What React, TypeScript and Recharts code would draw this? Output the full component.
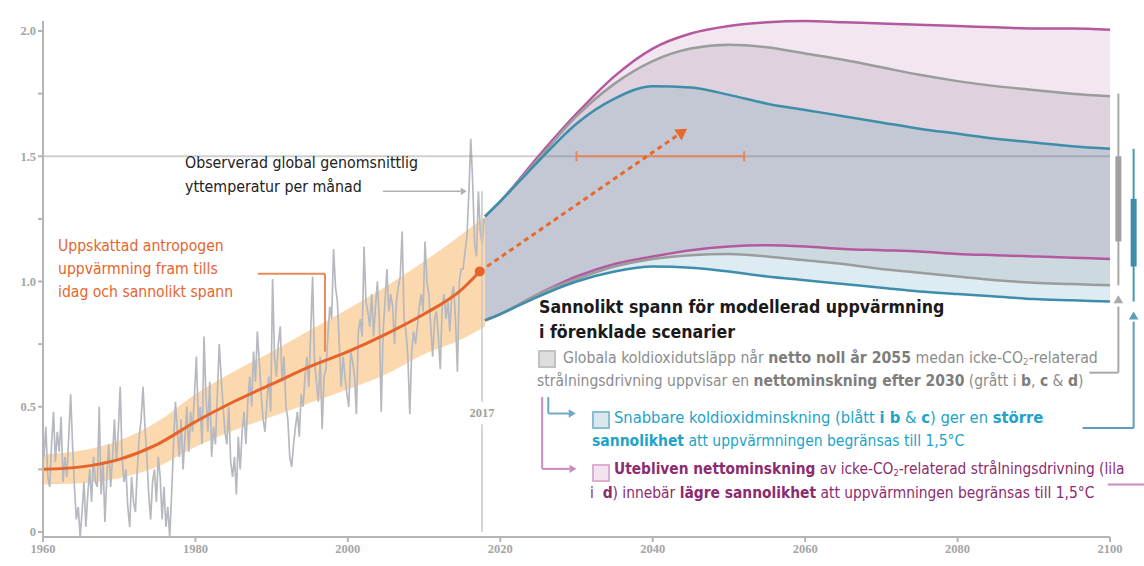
import { ComposedChart, Line, Area, XAxis, YAxis, ReferenceLine, ReferenceDot } from "recharts";

const FONT = '"Liberation Sans Narrow", "DejaVu Sans Condensed", "Open Sans", sans-serif';

// observed global mean surface temperature, quarterly, starting 1960
const obs1960s = [
  0.30, 0.42, 0.22, 0.18, 0.35, 0.48, 0.28, 0.40, 0.32, 0.46, 0.20, 0.30, 0.22, 0.38, 0.55, 0.35,
  0.18, 0.05, 0.10, -0.02, 0.08, 0.20, 0.02, 0.15, 0.25, 0.12, 0.30, 0.20, 0.18, 0.50, 0.15, 0.28,
  0.04, 0.22, 0.35, 0.18, 0.30, 0.45, 0.28, 0.40,
];
const obs1970s = [
  0.58, 0.30, 0.20, 0.25, 0.10, 0.02, 0.22, 0.12, 0.08, 0.25, 0.38, 0.45, 0.58, 0.42, 0.30, 0.15,
  0.05, 0.20, 0.25, 0.12, 0.30, 0.22, 0.05, 0.18, 0.02, 0.10, -0.02, 0.15, 0.35, 0.52, 0.40, 0.30,
  0.45, 0.25, 0.38, 0.50, 0.32, 0.48, 0.40, 0.55,
];
const obs1980s = [
  0.70, 0.45, 0.50, 0.35, 0.78, 0.55, 0.40, 0.60, 0.30, 0.42, 0.35, 0.55, 0.75, 0.62, 0.50, 0.40,
  0.35, 0.50, 0.28, 0.22, 0.30, 0.15, 0.38, 0.25, 0.40, 0.48, 0.35, 0.52, 0.62, 0.50, 0.72, 0.60,
  0.80, 0.68, 0.55, 0.45, 0.40, 0.52, 0.62, 0.48,
];
const obs1990s = [
  1.01, 0.70, 0.62, 0.75, 0.82, 0.60, 0.70, 0.50, 0.45, 0.30, 0.26, 0.35, 0.42, 0.48, 0.38, 0.55,
  0.50, 0.62, 0.70, 0.58, 0.80, 1.02, 0.68, 0.60, 0.52, 0.70, 0.41, 0.62, 0.65, 0.78, 0.90, 0.85,
  1.13, 0.98, 0.92, 0.75, 0.58, 0.70, 0.62, 0.55,
];
const obs2000s = [
  0.50, 0.72, 0.68, 0.62, 0.47, 0.80, 0.85, 0.78, 1.14, 0.92, 0.88, 0.82, 0.95, 0.78, 0.90, 1.00,
  0.85, 0.48, 0.80, 0.92, 1.05, 0.88, 0.95, 0.90, 0.75, 0.92, 0.98, 1.02, 1.20, 0.85, 0.80, 0.70,
  0.47, 0.72, 0.80, 0.75, 0.82, 0.90, 0.95, 0.88,
];
const obs2010s = [
  1.16, 1.00, 0.95, 0.82, 0.70, 0.85, 0.88, 0.78, 0.65, 0.90, 0.95, 0.85, 0.92, 0.80, 0.95, 0.98,
  0.85, 0.64, 1.00, 1.05, 1.05, 1.12, 1.18, 1.35, 1.57, 1.40, 1.15, 1.10, 1.36, 1.20, 1.15, 1.25,
];

// estimated anthropogenic warming and likely range
const anthroYears = [1960, 1965, 1970, 1975, 1980, 1985, 1990, 1995, 2000, 2005, 2010, 2015, 2017.3];
const anthroMid = [0.25, 0.26, 0.29, 0.35, 0.44, 0.52, 0.59, 0.66, 0.72, 0.79, 0.87, 0.97, 1.04];
const bandYears = [1960, 1965, 1970, 1975, 1980, 1985, 1990, 1995, 2000, 2005, 2010, 2015, 2018];
const bandLow = [0.19, 0.195, 0.215, 0.26, 0.34, 0.405, 0.46, 0.515, 0.57, 0.63, 0.71, 0.77, 0.82];
const bandHigh = [0.31, 0.325, 0.365, 0.44, 0.55, 0.64, 0.72, 0.805, 0.89, 0.98, 1.08, 1.19, 1.26];

// modelled pathways
const fanYears = [2018, 2020, 2025, 2030, 2035, 2040, 2045, 2050, 2055, 2060, 2065, 2070, 2075, 2080, 2085, 2090, 2095, 2100];
const purpleTop = [1.26, 1.32, 1.5, 1.67, 1.82, 1.93, 1.99, 2.02, 2.035, 2.04, 2.035, 2.03, 2.025, 2.02, 2.015, 2.01, 2.01, 2.005];
const greyTop = [1.26, 1.32, 1.49, 1.66, 1.79, 1.88, 1.93, 1.945, 1.935, 1.91, 1.885, 1.855, 1.825, 1.8, 1.78, 1.765, 1.75, 1.74];
const tealTop = [1.26, 1.32, 1.48, 1.63, 1.73, 1.78, 1.775, 1.745, 1.71, 1.685, 1.66, 1.635, 1.61, 1.59, 1.57, 1.555, 1.54, 1.53];
const purpleBot = [0.845, 0.87, 0.95, 1.02, 1.07, 1.1, 1.125, 1.14, 1.145, 1.14, 1.13, 1.125, 1.12, 1.11, 1.105, 1.1, 1.095, 1.09];
const greyBot = [0.845, 0.87, 0.95, 1.01, 1.06, 1.09, 1.105, 1.11, 1.1, 1.085, 1.07, 1.05, 1.035, 1.02, 1.005, 0.995, 0.99, 0.985];
const tealBot = [0.845, 0.87, 0.94, 1.0, 1.04, 1.06, 1.055, 1.04, 1.02, 1.005, 0.99, 0.975, 0.96, 0.95, 0.94, 0.93, 0.925, 0.92];

// 1.5 °C reached between 2030 and 2052, extrapolated trend
const crossYears = [2030, 2052];
const trendYears = [2017.3, 2044.5];
const trendValues = [1.04, 1.61];

// right-hand ranges in 2100 [thinLow, thinHigh, thickLow, thickHigh]
const greyRange = [0.985, 1.75, 1.16, 1.5];
const tealRange = [0.92, 1.53, 1.06, 1.33];

const xTicks = [1960, 1980, 2000, 2020, 2040, 2060, 2080, 2100];
const yTicks = [0, 0.25, 0.5, 0.75, 1, 1.25, 1.5, 1.75, 2];
const yLabels: Record<string, string> = { "0": "0", "0.5": "0.5", "1": "1.0", "1.5": "1.5", "2": "2.0" };

const observed = [...obs1960s, ...obs1970s, ...obs1980s, ...obs1990s, ...obs2000s, ...obs2010s].map((v, i) => ({
  year: 1960 + i * 0.25 + 0.125,
  temp: v,
}));
const anthro = anthroYears.map((y, i) => ({ year: y, mid: anthroMid[i] }));
const band = bandYears.map((y, i) => ({ year: y, range: [bandLow[i], bandHigh[i]] }));
const fan = fanYears.map((y, i) => ({
  year: y,
  pTop: purpleTop[i],
  gTop: greyTop[i],
  tTop: tealTop[i],
  pBot: purpleBot[i],
  gBot: greyBot[i],
  tBot: tealBot[i],
}));
const cross = crossYears.map((y) => ({ year: y, v: 1.5 }));
const trend = trendYears.map((y, i) => ({ year: y, v: trendValues[i] }));

function makeArrowDot(color: string, size: number) {
  let prev: { x: number; y: number } | null = null;
  return (p: any) => {
    const { cx, cy, index } = p;
    if (index === 0) {
      prev = { x: cx, y: cy };
      return <g key={`ad${index}`} />;
    }
    const a = prev ? Math.atan2(cy - prev.y, cx - prev.x) : 0;
    const bx = cx - Math.cos(a) * size;
    const by = cy - Math.sin(a) * size;
    const w = size * 0.6;
    const d = `M${cx},${cy} L${bx - Math.sin(a) * w},${by + Math.cos(a) * w} L${bx + Math.sin(a) * w},${by - Math.cos(a) * w} Z`;
    return <path key={`ad${index}`} d={d} fill={color} />;
  };
}

const arrowShape = (dir: "up" | "right", color: string, s: number) => (p: any) => {
  const { cx, cy } = p;
  const d =
    dir === "up"
      ? `M${cx},${cy} L${cx - s * 0.6},${cy + s} L${cx + s * 0.6},${cy + s} Z`
      : `M${cx},${cy} L${cx - s},${cy - s * 0.6} L${cx - s},${cy + s * 0.6} Z`;
  return <path d={d} fill={color} />;
};

const capDot = (p: any) => (
  <line key={`c${p.index}`} x1={p.cx} x2={p.cx} y1={p.cy - 5} y2={p.cy + 5} stroke="#e4875c" strokeWidth={2} />
);

const trendArrow = makeArrowDot("#e66a2c", 11);

const seg = (pts: [number, number][], color: string, width: number, key: string) =>
  pts.slice(1).map((pt, i) => (
    <ReferenceLine
      key={`${key}${i}`}
      segment={[{ x: pts[i][0], y: pts[i][1] }, { x: pt[0], y: pt[1] }]}
      stroke={color}
      strokeWidth={width}
      ifOverflow="visible"
    />
  ));

const Txt = ({ x, y, size, color, weight, children }: any) => (
  <div
    style={{
      position: "absolute",
      left: x,
      top: y - size * 0.65,
      fontSize: size,
      lineHeight: `${size * 1.3}px`,
      color,
      fontWeight: weight || 400,
      fontFamily: FONT,
      whiteSpace: "nowrap",
    }}
  >
    {children}
  </div>
);

const Sub = ({ children }: any) => <sub style={{ fontSize: "0.6em", verticalAlign: "-0.25em" }}>{children}</sub>;

const Box = ({ x, y, bg, border }: any) => (
  <div style={{ position: "absolute", left: x, top: y, width: 14, height: 14, background: bg, border: `2px solid ${border}` }} />
);

export default function App() {
  const tick = { fill: "#a5a5a5", fontSize: 12.5, fontFamily: '"Liberation Serif", serif', fontWeight: 700 };
  return (
    <div style={{ position: "absolute", left: 0, top: 0, width: 1144, height: 566, background: "#fff" }}>
      <ComposedChart width={1144} height={566} margin={{ top: 21, right: 34, bottom: 0, left: 0 }}>
        <XAxis
          type="number"
          dataKey="year"
          domain={[1960, 2100]}
          ticks={xTicks}
          height={29}
          tick={tick}
          tickSize={5}
          axisLine={{ stroke: "#b5b5b5", strokeWidth: 2 }}
          tickLine={{ stroke: "#b5b5b5", strokeWidth: 2 }}
          allowDuplicatedCategory={false}
        />
        <YAxis
          type="number"
          domain={[0, 2]}
          ticks={yTicks}
          width={43}
          tick={tick}
          tickSize={5}
          tickFormatter={(v: number) => yLabels[String(v)] ?? ""}
          axisLine={{ stroke: "#b5b5b5", strokeWidth: 2 }}
          tickLine={{ stroke: "#b5b5b5", strokeWidth: 2 }}
        />

        <Line data={observed} dataKey="temp" stroke="#b6b9bf" strokeWidth={1.7} dot={false} isAnimationActive={false} type="linear" />
        <Area data={band} dataKey="range" stroke="none" fill="#f8b86c" fillOpacity={0.55} isAnimationActive={false} type="monotone" />
        <Line data={anthro} dataKey="mid" stroke="#e6632b" strokeWidth={3} dot={false} isAnimationActive={false} type="monotone" />

        <Area data={fan} dataKey={(d: any) => [d.gTop, d.pTop]} stroke="none" fill="#f2e6f0" fillOpacity={1} isAnimationActive={false} type="monotone" />
        <Area data={fan} dataKey={(d: any) => [d.tTop, d.gTop]} stroke="none" fill="#ddd2dd" fillOpacity={1} isAnimationActive={false} type="monotone" />
        <Area data={fan} dataKey={(d: any) => [d.pBot, d.tTop]} stroke="none" fill="#c4c7d4" fillOpacity={1} isAnimationActive={false} type="monotone" />
        <Area data={fan} dataKey={(d: any) => [d.gBot, d.pBot]} stroke="none" fill="#ccdadf" fillOpacity={1} isAnimationActive={false} type="monotone" />
        <Area data={fan} dataKey={(d: any) => [d.tBot, d.gBot]} stroke="none" fill="#ddecf2" fillOpacity={1} isAnimationActive={false} type="monotone" />

        <ReferenceLine y={1.5} stroke="#777" strokeOpacity={0.35} strokeWidth={2} />

        <Line data={fan} dataKey="pTop" stroke="#b35a9e" strokeWidth={2.5} dot={false} isAnimationActive={false} type="monotone" />
        <Line data={fan} dataKey="pBot" stroke="#b35a9e" strokeWidth={2.5} dot={false} isAnimationActive={false} type="monotone" />
        <Line data={fan} dataKey="gTop" stroke="#9c9c9c" strokeWidth={2.5} dot={false} isAnimationActive={false} type="monotone" />
        <Line data={fan} dataKey="gBot" stroke="#9c9c9c" strokeWidth={2.5} dot={false} isAnimationActive={false} type="monotone" />
        <Line data={fan} dataKey="tTop" stroke="#3e8eab" strokeWidth={2.5} dot={false} isAnimationActive={false} type="monotone" />
        <Line data={fan} dataKey="tBot" stroke="#3e8eab" strokeWidth={2.5} dot={false} isAnimationActive={false} type="monotone" />

        <Line data={cross} dataKey="v" stroke="#e4875c" strokeWidth={2} dot={capDot} isAnimationActive={false} />
        <Line data={trend} dataKey="v" stroke="#e66a2c" strokeWidth={3} strokeDasharray="5 4" dot={trendArrow} isAnimationActive={false} />
        <ReferenceDot x={2017.3} y={1.04} r={5} fill="#e6632b" stroke="none" />

        {/* 2017 marker */}
        {seg([[2017.6, 0], [2017.6, 0.43]], "#c8c8c8", 1.5, "y17a")}
        {seg([[2017.6, 0.52], [2017.6, 1.36]], "#c8c8c8", 1.5, "y17b")}
        <ReferenceDot
          x={2017.6}
          y={0.475}
          r={0}
          fill="none"
          stroke="none"
          label={{ value: "2017", position: "center", fill: "#a0a0a0", fontSize: 12.5, fontWeight: 700, fontFamily: '"Liberation Serif", serif' }}
        />

        {/* annotation connectors */}
        {seg([[1988.2, 1.031], [1997.0, 1.031], [1997.0, 0.72]], "#e98a5c", 2, "anth")}
        {seg([[2004.6, 1.36], [2014.8, 1.36]], "#b0b0b0", 1.5, "obs")}
        <ReferenceDot x={2015.6} y={1.36} r={0} shape={arrowShape("right", "#b0b0b0", 6)} ifOverflow="visible" />

        {seg([[2026.3, 0.539], [2026.3, 0.473], [2029.0, 0.473]], "#6ea9c2", 2, "tl")}
        <ReferenceDot x={2029.9} y={0.473} r={0} shape={arrowShape("right", "#6ea9c2", 7)} ifOverflow="visible" />
        {seg([[2025.5, 0.539], [2025.5, 0.252], [2029.1, 0.252]], "#c98cbc", 2, "pl")}
        <ReferenceDot x={2030.0} y={0.252} r={0} shape={arrowShape("right", "#c98cbc", 7)} ifOverflow="visible" />

        {/* right-hand ranges */}
        {seg([[2101.1, greyRange[0]], [2101.1, greyRange[1]]], "#a8a8a8", 2, "gr")}
        {seg([[2101.1, greyRange[2]], [2101.1, greyRange[3]]], "#a0a0a0", 6, "gk")}
        {seg([[2103.1, tealRange[0]], [2103.1, tealRange[1]]], "#4a96b0", 2, "tr")}
        {seg([[2103.1, tealRange[2]], [2103.1, tealRange[3]]], "#3e8eab", 6, "tk")}

        {seg([[2097.3, 0.636], [2101.1, 0.636], [2101.1, 0.9]], "#a8a8a8", 2, "gc")}
        <ReferenceDot x={2101.1} y={0.945} r={0} shape={arrowShape("up", "#a8a8a8", 8)} ifOverflow="visible" />
        {seg([[2096.4, 0.415], [2103.1, 0.415], [2103.1, 0.84]], "#5c9fb8", 2, "tc")}
        <ReferenceDot x={2103.1} y={0.88} r={0} shape={arrowShape("up", "#5c9fb8", 8)} ifOverflow="visible" />
        {seg([[2099.7, 0.19], [2104.6, 0.19]], "#c98cbc", 2, "pc")}
      </ComposedChart>

      <Txt x={185} y={163} size={15.8} color="#222">Observerad global genomsnittlig</Txt>
      <Txt x={185} y={187} size={15.8} color="#222">yttemperatur per månad</Txt>

      <Txt x={58} y={246} size={15.6} color="#e4662e">Uppskattad antropogen</Txt>
      <Txt x={58} y={269} size={15.6} color="#e4662e">uppvärmning fram tills</Txt>
      <Txt x={58} y={292} size={15.6} color="#e4662e">idag och sannolikt spann</Txt>

      <Txt x={539} y={307} size={17.6} color="#1a1a1a" weight={700}>Sannolikt spann för modellerad uppvärmning</Txt>
      <Txt x={539} y={332} size={17.6} color="#1a1a1a" weight={700}>i förenklade scenarier</Txt>

      <Box x={538} y={350} bg="#dedede" border="#c2c2c2" />
      <Txt x={563} y={358} size={15.7} color="#8c8c8c">
        Globala koldioxidutsläpp når <b style={{ color: "#7d7d7d" }}>netto noll år 2055</b> medan icke-CO<Sub>2</Sub>-relaterad
      </Txt>
      <Txt x={537} y={381} size={15.5} color="#8c8c8c">
        strålningsdrivning uppvisar en <b style={{ color: "#7d7d7d" }}>nettominskning efter 2030</b> (grått i <b style={{ color: "#7d7d7d" }}>b</b>, <b style={{ color: "#7d7d7d" }}>c</b> &amp; <b style={{ color: "#7d7d7d" }}>d</b>)
      </Txt>

      <Box x={592} y={411} bg="#d8e8ee" border="#8dbdd0" />
      <Txt x={614} y={418} size={16.4} color="#21a3c9">
        Snabbare koldioxidminskning (blått <b>i b</b> &amp; <b>c</b>) ger en <b>större</b>
      </Txt>
      <Txt x={592} y={441} size={15.5} color="#21a3c9">
        <b>sannolikhet</b> att uppvärmningen begränsas till 1,5°C
      </Txt>

      <Box x={592} y={464} bg="#f3e3ef" border="#dcaed0" />
      <Txt x={614} y={470} size={15.3} color="#8c2b70">
        <b>Utebliven nettominskning</b> av icke-CO<Sub>2</Sub>-relaterad strålningsdrivning (lila
      </Txt>
      <Txt x={590} y={493} size={15.4} color="#8c2b70">
        i&nbsp;&nbsp;<b>d</b>) innebär <b>lägre sannolikhet</b> att uppvärmningen begränsas till 1,5°C
      </Txt>
    </div>
  );
}
